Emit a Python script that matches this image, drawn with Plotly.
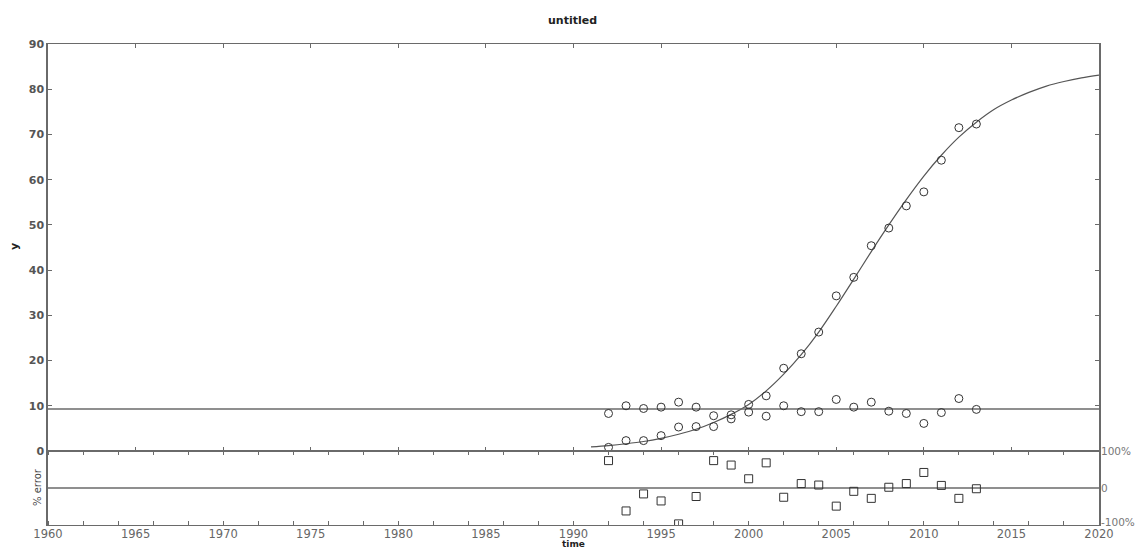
import plotly.graph_objects as go

# ---------------- data ----------------
years = list(range(1992, 2014))
growth = [0.8, 2.3, 2.3, 3.4, 5.3, 5.4, 5.4, 7.1, 10.3, 12.2, 18.3, 21.5, 26.3,
          34.3, 38.4, 45.4, 49.3, 54.2, 57.3, 64.3, 71.5, 72.3]
flat = [8.3, 10.0, 9.4, 9.7, 10.8, 9.7, 7.8, 8.0, 8.6, 7.7, 10.0, 8.7, 8.7,
        11.4, 9.7, 10.8, 8.8, 8.3, 6.1, 8.5, 11.6, 9.2]
flat_level = 9.3
pct_error = [74, -62, -16, -35, -97, -23, 74, 62, 25, 68, -25, 12, 8,
             -49, -9, -28, 2, 12, 42, 7, -28, -2]

fit_years = list(range(1991, 2021))
fit_values = [0.9, 1.2, 1.6, 2.1, 2.8, 3.7, 4.8, 6.3, 8.1, 10.3, 13.3, 17.0, 21.3,
              26.3, 32.0, 38.0, 44.1, 50.0, 55.6, 60.8, 65.4, 69.4, 72.7, 75.5,
              77.6, 79.3, 80.7, 81.7, 82.5, 83.1]

x_range = [1960, 2020]
x_labels = list(range(1960, 2021, 5))
y_ticks = list(range(0, 91, 10))
err_ticks = [100, 0, -100]
err_labels = ["100%", "0", "-100%"]

# ---------------- figure ----------------
W, H = 1145, 550
ML, MR, MT, MB = 48, 46, 44, 25
ph = H - MT - MB
split = 74 / ph

AX = "#6a6a6a"
INK = "#333333"
TXT = "#555555"
FONT = "DejaVu Sans"

fig = go.Figure()

fig.add_trace(go.Scatter(x=fit_years, y=fit_values, mode="lines", line=dict(color="#555", width=1.2, shape="spline"),
                         xaxis="x", yaxis="y", hoverinfo="skip"))
fig.add_trace(go.Scatter(x=x_range, y=[flat_level, flat_level], mode="lines", line=dict(color=AX, width=1.5),
                         xaxis="x", yaxis="y", hoverinfo="skip"))
fig.add_trace(go.Scatter(x=years, y=growth, mode="markers",
                         marker=dict(symbol="circle-open", size=8, color=INK, line=dict(width=1)),
                         xaxis="x", yaxis="y", cliponaxis=False))
fig.add_trace(go.Scatter(x=years, y=flat, mode="markers",
                         marker=dict(symbol="circle-open", size=8, color=INK, line=dict(width=1)),
                         xaxis="x", yaxis="y", cliponaxis=False))
fig.add_trace(go.Scatter(x=x_range, y=[0, 0], mode="lines", line=dict(color=AX, width=1.5),
                         xaxis="x2", yaxis="y2", hoverinfo="skip"))
fig.add_trace(go.Scatter(x=years, y=pct_error, mode="markers",
                         marker=dict(symbol="square-open", size=8, color=INK, line=dict(width=1)),
                         xaxis="x2", yaxis="y2"))

fig.update_layout(
    width=W, height=H,
    margin=dict(l=ML, r=MR, t=MT, b=MB, autoexpand=False),
    paper_bgcolor="white", plot_bgcolor="rgba(0,0,0,0)",
    showlegend=False,
    font=dict(family=FONT, color=TXT, size=11),
    xaxis=dict(domain=[0, 1], anchor="y", range=x_range, showgrid=False, zeroline=False,
               showline=True, linecolor=AX, linewidth=1, mirror="allticks", automargin=False,
               ticks="inside", tick0=1960, dtick=5, ticklen=4, tickcolor=AX,
               showticklabels=False),
    yaxis=dict(domain=[split, 1], anchor="x", range=[0, 90], showgrid=False, zeroline=False,
               showline=True, linecolor=AX, linewidth=1.5, mirror="allticks", automargin=False,
               ticks="inside", tickvals=y_ticks, ticklen=4, tickcolor=AX,
               tickfont=dict(size=11, color="#555", family=FONT, weight="bold")),
    xaxis2=dict(domain=[0, 1], anchor="y2", range=x_range, showgrid=False, zeroline=False,
                showline=True, linecolor=AX, linewidth=1.2, mirror="allticks", automargin=False,
                ticks="outside", ticklen=0, tickvals=x_labels, ticklabelstandoff=-2,
                minor=dict(ticks="inside", tick0=1960, dtick=2, ticklen=4, tickcolor=AX),
                tickfont=dict(size=11.5, color="#666", family=FONT)),
    yaxis2=dict(domain=[0, split], anchor="x2", side="right", range=[-100, 100],
                showgrid=False, zeroline=False, automargin=False,
                showline=True, linecolor=AX, linewidth=1.5, mirror=True,
                ticks="", showticklabels=False),
)

def px_x(p):
    return (p - ML) / (W - ML - MR)

def px_y(p):
    return (H - MB - p) / ph

common = dict(xref="paper", yref="paper", showarrow=False, xanchor="center", yanchor="middle")
fig.add_annotation(text="<b>untitled</b>", x=px_x(572), y=px_y(21),
                   font=dict(size=11, color="#222", family=FONT), **common)
fig.add_annotation(text="<b>y</b>", x=px_x(15), y=px_y(247), textangle=-90,
                   font=dict(size=11, color="#222", family=FONT), **common)
fig.add_annotation(text="% error", x=px_x(37), y=px_y(487), textangle=-90,
                   font=dict(size=10, color="#444", family=FONT), **common)
fig.add_annotation(text="<b>time</b>", x=px_x(573), y=px_y(544), borderpad=0,
                   font=dict(size=9, color="#222", family=FONT), **common)

# right-hand % error labels, tied to the lower panel's y scale
for v, lab in zip(err_ticks, err_labels):
    fig.add_annotation(text=lab, x=1, xref="paper", xanchor="left", xshift=1,
                       y=v, yref="y2", yanchor="middle", yshift=(3 if v == -100 else 0),
                       showarrow=False, borderpad=0,
                       font=dict(size=10.5, color="#777", family=FONT))

fig.write_html("out.html")
